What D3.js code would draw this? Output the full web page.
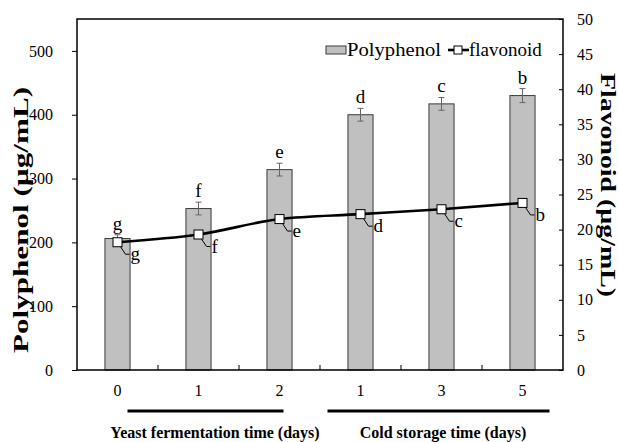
<!DOCTYPE html>
<html lang="en">
  <head>
    <meta charset="UTF-8" />
    <script src="https://d3js.org/d3.v7.min.js"></script>
    <title>Polyphenol and flavonoid</title>
    <style>
      body { margin: 0; background: #fff; }
      svg text { font-family: "Liberation Serif", "Tinos", "Times New Roman", "DejaVu Serif", serif; }
    </style>
  </head>
  <body>
    <script>
      // data
      const xLabels = ["0", "1", "2", "1", "3", "5"];
      const polyphenol = [206, 253, 314, 400, 417, 430];
      const polyErr = [6, 10, 10, 10, 10, 11];
      const polyLetters = ["g", "f", "e", "d", "c", "b"];
      const flavonoid = [18.2, 19.3, 21.5, 22.2, 22.9, 23.8];
      const flavLetters = ["g", "f", "e", "d", "c", "b"];
      const leftTicks = [0, 100, 200, 300, 400, 500];
      const rightTicks = [0, 5, 10, 15, 20, 25, 30, 35, 40, 45, 50];
      const groupLabels = ["Yeast fermentation time (days)", "Cold storage time (days)"];

      const W = 619, H = 442;
      const L = 77, R = 563, T = 19, B = 370;

      const svg = d3.select("body").append("svg")
        .attr("width", W).attr("height", H);

      const x = d3.scaleBand().domain(d3.range(xLabels.length)).range([L, R]);
      const yL = d3.scaleLinear().domain([0, 550]).range([B, T]);
      const yR = d3.scaleLinear().domain([0, 50]).range([B, T]);
      const bw = x.bandwidth() * 0.31;
      const cx = (i) => x(i) + x.bandwidth() / 2;

      // bars
      svg.selectAll("rect.bar")
        .data(polyphenol)
        .join("rect")
        .attr("class", "bar")
        .attr("x", (d, i) => cx(i) - bw / 2)
        .attr("y", (d) => yL(d))
        .attr("width", bw)
        .attr("height", (d) => B - yL(d))
        .attr("fill", "#c0c0c0")
        .attr("stroke", "#3a3a3a")
        .attr("stroke-width", 1);

      // error bars
      const eg = svg.append("g").attr("stroke", "#666").attr("stroke-width", 1);
      polyphenol.forEach((d, i) => {
        const c = cx(i), t = yL(d + polyErr[i]), b = yL(d - polyErr[i]);
        eg.append("line").attr("x1", c).attr("x2", c).attr("y1", t).attr("y2", b);
        eg.append("line").attr("x1", c - 3).attr("x2", c + 3).attr("y1", t).attr("y2", t);
        eg.append("line").attr("x1", c - 3).attr("x2", c + 3).attr("y1", b).attr("y2", b);
      });

      svg.selectAll("text.plet")
        .data(polyLetters)
        .join("text")
        .attr("class", "plet")
        .attr("x", (d, i) => cx(i))
        .attr("y", (d, i) => yL(polyphenol[i] + polyErr[i]) - 5)
        .attr("text-anchor", "middle")
        .attr("font-size", 19)
        .text((d) => d);

      // flavonoid line
      const line = d3.line().x((d, i) => cx(i)).y((d) => yR(d)).curve(d3.curveMonotoneX);
      svg.append("path")
        .datum(flavonoid)
        .attr("d", line)
        .attr("fill", "none")
        .attr("stroke", "#000")
        .attr("stroke-width", 2.6);

      const lead = svg.append("g").attr("stroke", "#000").attr("stroke-width", 1).attr("fill", "none");
      flavonoid.forEach((d, i) => {
        const px = cx(i), py = yR(d);
        lead.append("polyline")
          .attr("points", `${px},${py} ${px + 8},${py + 12} ${px + 12},${py + 12}`);
      });

      svg.selectAll("rect.mk")
        .data(flavonoid)
        .join("rect")
        .attr("class", "mk")
        .attr("x", (d, i) => cx(i) - 4.5)
        .attr("y", (d) => yR(d) - 4.5)
        .attr("width", 9)
        .attr("height", 9)
        .attr("fill", "#fff")
        .attr("stroke", "#000")
        .attr("stroke-width", 1);

      svg.selectAll("text.flet")
        .data(flavLetters)
        .join("text")
        .attr("class", "flet")
        .attr("x", (d, i) => cx(i) + 13)
        .attr("y", (d, i) => yR(flavonoid[i]) + 18)
        .attr("font-size", 19)
        .text((d) => d);

      // frame
      svg.append("path")
        .attr("d", `M${L},${B}V${T}H${R}V${B}H${L}`)
        .attr("fill", "none")
        .attr("stroke", "#000")
        .attr("stroke-width", 1.5);

      // axes
      const axL = svg.append("g").attr("transform", `translate(${L},0)`)
        .call(d3.axisLeft(yL).tickValues(leftTicks).tickSize(5).tickPadding(19));
      const axR = svg.append("g").attr("transform", `translate(${R},0)`)
        .call(d3.axisRight(yR).tickValues(rightTicks).tickSize(-4).tickPadding(14));
      const axB = svg.append("g").attr("transform", `translate(0,${B})`)
        .call(d3.axisBottom(x).tickSize(0).tickPadding(15).tickFormat((d) => xLabels[d]));
      [axL, axR, axB].forEach((g) => {
        g.select(".domain").remove();
        g.attr("font-family", null);
        g.selectAll("text").attr("font-size", 16);
        g.selectAll("line").attr("stroke", "#000");
      });

      // inner ticks between categories
      svg.append("g").selectAll("line")
        .data(d3.range(1, xLabels.length))
        .join("line")
        .attr("x1", (d) => x(d)).attr("x2", (d) => x(d))
        .attr("y1", B).attr("y2", B - 5)
        .attr("stroke", "#000");

      // axis titles
      svg.append("text")
        .attr("transform", `translate(28,220) rotate(-90)`)
        .attr("text-anchor", "middle")
        .attr("font-size", 22)
        .attr("font-weight", "bold")
        .attr("textLength", 266)
        .attr("lengthAdjust", "spacingAndGlyphs")
        .text("Polyphenol (µg/mL)");
      svg.append("text")
        .attr("transform", `translate(601,185) rotate(90)`)
        .attr("text-anchor", "middle")
        .attr("font-size", 21)
        .attr("font-weight", "bold")
        .attr("textLength", 224)
        .attr("lengthAdjust", "spacingAndGlyphs")
        .text("Flavonoid (µg/mL)");

      // group lines and labels
      const gx = [[cx(0) + 10, cx(2) + 4], [cx(3) - 33, cx(5) + 27]];
      const gTextX = [215, 443];
      groupLabels.forEach((lab, k) => {
        svg.append("line")
          .attr("x1", gx[k][0]).attr("x2", gx[k][1])
          .attr("y1", 411).attr("y2", 411)
          .attr("stroke", "#000").attr("stroke-width", 3);
        svg.append("text")
          .attr("x", gTextX[k])
          .attr("y", 438)
          .attr("text-anchor", "middle")
          .attr("font-size", 16)
          .attr("font-weight", "bold")
          .text(lab);
      });

      // legend
      const lg = svg.append("g");
      lg.append("rect").attr("x", 326).attr("y", 46).attr("width", 20).attr("height", 8)
        .attr("fill", "#c0c0c0").attr("stroke", "#3a3a3a");
      lg.append("text").attr("x", 347).attr("y", 56).attr("font-size", 19)
        .attr("textLength", 94).attr("lengthAdjust", "spacingAndGlyphs").text("Polyphenol");
      lg.append("line").attr("x1", 448).attr("x2", 469).attr("y1", 50).attr("y2", 50)
        .attr("stroke", "#000").attr("stroke-width", 2.6);
      lg.append("rect").attr("x", 454).attr("y", 46).attr("width", 8).attr("height", 8)
        .attr("fill", "#fff").attr("stroke", "#000");
      lg.append("text").attr("x", 469).attr("y", 56).attr("font-size", 19).text("flavonoid");
    </script>
  </body>
</html>
